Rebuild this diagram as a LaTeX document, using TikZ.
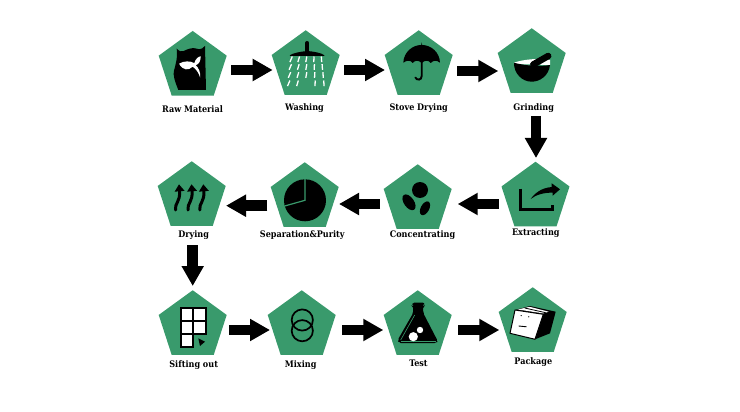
\documentclass[tikz,border=0pt]{standalone}
\usepackage{fontspec}
\setmainfont{DejaVu Serif Condensed}
\usetikzlibrary{arrows.meta,shapes.geometric}
\definecolor{leaf}{HTML}{399A6C}

\begin{document}
\begin{tikzpicture}[
  x=1pt,y=-1pt,
  penta/.style={regular polygon,regular polygon sides=5,fill=leaf,minimum size=71.5pt,inner sep=0pt,outer sep=0pt},
  lbl/.style={font=\bfseries\fontsize{9}{11}\selectfont,inner sep=0pt},
  flow/.style={line width=10.8pt,-{Triangle[length=20pt,width=21pt]}},
  ink/.style={fill=black,draw=none},
  hole/.style={fill=white,draw=none},
]
  \useasboundingbox (0,0) rectangle (740,412);

  % Pentagons, one row after the other
  \node[penta] (Raw) at (192.7,66.7) {};
  \node[penta] (Washing) at (305.7,66) {};
  \node[penta] (Stove) at (418.7,66) {};
  \node[penta] (Grinding) at (531.7,64) {};
  \node[penta] (Extracting) at (535.5,197.5) {};
  \node[penta] (Conc) at (417.7,200) {};
  \node[penta] (Sep) at (304.7,198) {};
  \node[penta] (Drying) at (191.7,197) {};
  \node[penta] (Sifting) at (192.7,326) {};
  \node[penta] (Mixing) at (301.7,326) {};
  \node[penta] (Test) at (417.7,326) {};
  \node[penta] (Package) at (532.7,323) {};

  % Labels
  \node[lbl] (RawL) at (192.5,109.3) {Raw Material};
  \node[lbl] (WashingL) at (304.5,107.7) {Washing};
  \node[lbl] (StoveL) at (418.7,107.7) {Stove Drying};
  \node[lbl] (GrindingL) at (533.7,107.7) {Grinding};
  \node[lbl] (ExtractingL) at (535.8,232.7) {Extracting};
  \node[lbl] (ConcL) at (422.5,235) {Concentrating};
  \node[lbl] (SepL) at (302.3,235) {Separation\&Purity};
  \node[lbl] (DryingL) at (193.7,235) {Drying};
  \node[lbl] (SiftingL) at (193.7,365) {Sifting out};
  \node[lbl] (MixingL) at (300.7,365) {Mixing};
  \node[lbl] (TestL) at (418.5,363.7) {Test};
  \node[lbl] (PackageL) at (533.3,362) {Package};

  % Arrows
  \draw[flow,shorten <=38.3pt,shorten >=33pt] ([yshift=-3.3pt]Raw.center) -- ([yshift=-4pt]Washing.center);
  \draw[flow,shorten <=38.3pt,shorten >=33.7pt] ([yshift=-4pt]Washing.center) -- ([yshift=-4pt]Stove.center);
  \draw[flow,shorten <=38.3pt,shorten >=33.4pt] ([yshift=-5pt]Stove.center) -- ([yshift=-7pt]Grinding.center);
  \draw[flow,shorten <=52pt,shorten >=39.5pt] ([xshift=4.3pt]Grinding.center) -- ([xshift=.5pt]Extracting.center);
  \draw[flow,shorten <=36.5pt,shorten >=40pt] ([yshift=-6.5pt]Extracting.center) -- ([yshift=-4pt]Conc.center);
  \draw[flow,shorten <=37.7pt,shorten >=34.3pt] ([yshift=-4pt]Conc.center) -- ([yshift=-6pt]Sep.center);
  \draw[flow,shorten <=37.4pt,shorten >=34.3pt] ([yshift=-7.7pt]Sep.center) -- ([yshift=-8.7pt]Drying.center);
  \draw[flow,shorten <=48pt,shorten >=40pt] ([xshift=1pt]Drying.center) -- (Sifting.center);
  \draw[flow,shorten <=36.3pt,shorten >=31.7pt] ([yshift=-4pt]Sifting.center) -- ([yshift=-4pt]Mixing.center);
  \draw[flow,shorten <=40.3pt,shorten >=34.4pt] ([yshift=-4pt]Mixing.center) -- ([yshift=-4pt]Test.center);
  \draw[flow,shorten <=40.3pt,shorten >=33.4pt] ([yshift=-4pt]Test.center) -- ([yshift=-7pt]Package.center);

  % Bag with sprout
  \begin{scope}[shift={(Raw.center)}]
    \path[ink] (-16,-18) .. controls (-13,-15) and (-11,-15) .. (-9.4,-15.5) .. controls (-5,-18) and (0,-19) .. (2.3,-18.4)
      .. controls (5,-17.5) and (8,-16) .. (12.3,-20.7) -- (13.3,23.3) -- (-14.4,23.3)
      .. controls (-18,14) and (-20,8) .. (-18.7,4) .. controls (-17,-3) and (-15,-8) .. cycle;
    \path[hole] (-13.6,-3) .. controls (-9,-6) and (-2,-6) .. (1.6,-3.5) .. controls (2.5,-7) and (5,-10) .. (8,-10.5)
      .. controls (8,-6) and (6.5,-2.5) .. (3,-1.5) .. controls (6,1) and (8,6) .. (7.5,11)
      .. controls (6,6) and (3.5,2.5) .. (0,0) .. controls (-4,4) and (-10,4) .. cycle;
  \end{scope}

  % Shower
  \begin{scope}[shift={(Washing.center)}]
    \draw[line width=4pt,line cap=round] (1.6,-23) -- (1.6,-13);
    \path[ink,rounded corners=.8pt] (-16.4,-10.2) .. controls (-13,-13) and (-4,-14.5) .. (1.6,-15)
      .. controls (8,-14.5) and (16,-13) .. (19.3,-10.2) -- cycle;
    \foreach \row/\ypos/\cols in {0/-6.7/{0,1,2,3,4},1/1/{0,1,2,3,4},2/9/{0,1,2,3,4},3/17.3/{0,1,3,4}}
      \foreach \col in \cols
        \draw[white,line width=1.3pt]
          ({(\col-2)*(7.6+\row*.4)+.6+1.2-\col*.35},\ypos-2.8) -- ({(\col-2)*(7.6+\row*.4)+.6-1.2+\col*.35},\ypos+2.8);
  \end{scope}

  % Umbrella
  \begin{scope}[shift={(Stove.center)}]
    \path[ink] (-15.4,-3.3) .. controls (-15,-14) and (-6,-21) .. (2.5,-21) -- (3,-23.5) -- (3.5,-21)
      .. controls (12,-21) and (21,-14) .. (21.3,-3.3) .. controls (18,-6) and (15,-6) .. (12,-3)
      .. controls (10,-6) and (6,-6) .. (3,-3) .. controls (0,-6) and (-4,-6) .. (-6,-3) .. controls (-8,-6) and (-12,-6) .. cycle;
    \draw[line width=1.9pt,line cap=round] (3,-4) -- (3,10) .. controls (3,14.5) and (-2,14.5) .. (-3.3,11.5);
  \end{scope}

  % Mortar and pestle
  \begin{scope}[shift={(Grinding.center)}]
    \path[hole] (-17.7,-1.3) .. controls (-8,-5) and (10,-6) .. (18.3,-4) -- (18.3,1) -- (-17.7,0) -- cycle;
    \path[ink] (-17.7,-1.3) .. controls (-8,1.5) and (8,3) .. (18.3,1) .. controls (17,12) and (8,17.7) .. (0,17.7)
      .. controls (-10,17.7) and (-18,9) .. cycle;
    \draw[line width=6.5pt,line cap=round] (1.6,0.5) -- (16.5,-8);
  \end{scope}

  % Rising heat
  \begin{scope}[shift={(Drying.center)}]
    \foreach \tip in {-12.7,-0.2,11.6}
      \draw[line width=3pt,line cap=round,-{Triangle[length=7pt,width=9.5pt]}]
        (\tip-3.5,13) .. controls (\tip-4.5,6) and (\tip+1.5,5) .. (\tip,-12.7);
  \end{scope}

  % Pie chart
  \begin{scope}[shift={(Sep.center)}]
    \path[ink] (0.3,2.3) circle[radius=21];
    \draw[leaf,line width=1.2pt] (0.3,-19) -- (0.3,2.3) -- (-20,8);
  \end{scope}

  % Three drops
  \begin{scope}[shift={(Conc.center)}]
    \path[ink] (2.3,-10) circle[radius=8];
    \path[ink,rotate around={-55:(-8.7,2.3)}] (-8.7,2.3) ellipse[x radius=9,y radius=5];
    \path[ink,rotate around={62:(7.3,8.3)}] (7.3,8.3) ellipse[x radius=7.5,y radius=4.2];
  \end{scope}

  % Export sign
  \begin{scope}[shift={(Extracting.center)}]
    \draw[line width=3pt,line join=miter] (-14.8,-9) -- (-14.8,11.8) -- (17.2,11.8) -- (17.2,7);
    \path[ink] (-4.8,1.5) .. controls (0,-5) and (6,-9.5) .. (16.2,-10.5) -- (16.2,-14.2) -- (24.5,-8.2) -- (17.2,-1.8)
      -- (17,-4.8) .. controls (8,-5) and (0,-2.5) .. cycle;
  \end{scope}

  % Sieve grid
  \begin{scope}[shift={(Sifting.center)}]
    \draw[fill=white,line width=2pt] (-12,-18.3) rectangle (0.6,-5.3);
    \draw[fill=white,line width=2pt] (0.6,-18.3) rectangle (13.3,-5.3);
    \draw[fill=white,line width=2pt] (-12,-5.3) rectangle (0.6,8);
    \draw[fill=white,line width=2pt] (0.6,-5.3) rectangle (13.3,8);
    \draw[fill=white,line width=2pt] (-12,8) rectangle (0.6,21.3);
    \path[ink] (5.6,12.3) -- (12.3,15.7) -- (7.3,20) -- cycle;
  \end{scope}

  % Two rings
  \begin{scope}[shift={(Mixing.center)}]
    \draw[line width=1.7pt] (0.6,-6) circle[radius=10.6];
    \draw[line width=1.7pt] (0.6,4.7) circle[radius=10.6];
  \end{scope}

  % Flask
  \begin{scope}[shift={(Test.center)}]
    \path[ink,rounded corners=2pt] (-5.4,-23.5) -- (6.6,-23.5) -- (6.6,-20.5) -- (5.5,-20) -- (5.5,-13)
      -- (20,15) -- (19,17) -- (-19,17) -- (-20,14) -- (-4.5,-13) -- (-4.5,-20) -- (-5.8,-20.5) -- cycle;
    \draw[leaf,line width=.6pt] (-17,14) -- (-3,-11);
    \draw[leaf,line width=.6pt] (-17,14.8) -- (18,14.8);
    \path[hole] (-4.4,10.7) circle[radius=4.6];
    \path[hole] (2.3,4) circle[radius=3.2];
  \end{scope}

  % Box with a face
  \begin{scope}[shift={(Package.center)}]
    \path[ink] (-17.7,-13) -- (-2.7,-17) -- (23,-11.3) -- (17.3,10.3) -- (2.3,16.3) -- (10.6,-8.7) -- cycle;
    \draw[fill=white,line width=1pt,line join=round] (-17.7,-13) -- (10.6,-8.7) -- (2.3,16.3) -- (-22.7,10.3) -- cycle;
    \path[hole] (-15,-13.5) -- (-3,-16.2) -- (16,-11.3) -- (10.6,-9.6) -- cycle;
    \draw[line width=.8pt] (-8,-15) -- (13,-10.3);
    \draw[line width=.9pt] (-12,-7.5) -- (-11,-7.3);
    \draw[line width=.9pt] (-4.5,-6.3) -- (-3.5,-6.1);
    \draw[line width=.9pt] (-14,3) -- (-6,3.8);
  \end{scope}
\end{tikzpicture}
\end{document}
